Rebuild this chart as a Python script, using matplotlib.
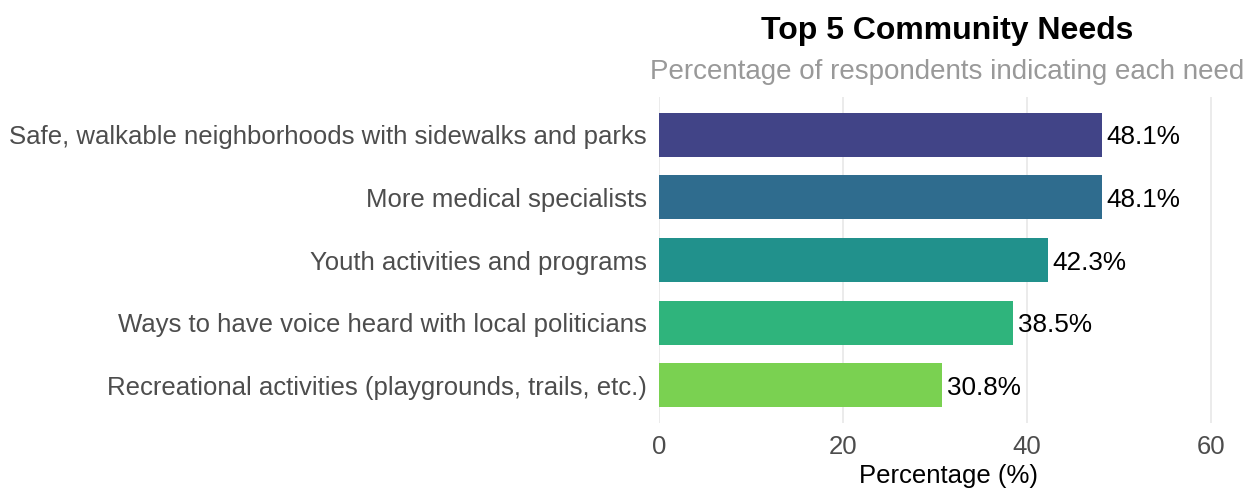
import matplotlib
matplotlib.use("Agg")
import matplotlib.pyplot as plt
import numpy as np

plt.rcParams['font.family'] = ['Liberation Sans', 'DejaVu Sans']

needs = [
    "Safe, walkable neighborhoods with sidewalks and parks",
    "More medical specialists",
    "Youth activities and programs",
    "Ways to have voice heard with local politicians",
    "Recreational activities (playgrounds, trails, etc.)",
]
percentages = [48.1, 48.1, 42.3, 38.5, 30.8]
x_ticks = [0, 20, 40, 60]

title = "Top 5 Community Needs"
subtitle = "Percentage of respondents indicating each need"
x_label = "Percentage (%)"

colors = plt.cm.viridis(np.linspace(0.2, 0.8, len(needs)))

fig = plt.figure(figsize=(12.57, 4.91), dpi=100)
ax = fig.add_axes([0.5243, 0.1385, 0.4611, 0.6639])

y_pos = np.arange(len(needs))
ax.barh(y_pos, percentages, height=0.7, color=colors, zorder=2)
for y, v in zip(y_pos, percentages):
    ax.text(v + 0.5, y, f"{v:.1f}%", va='center_baseline', ha='left',
            fontsize=18.8, color='black', zorder=3)

ax.set_ylim(len(needs) - 0.4, -0.6)
ax.set_xlim(0, 63)
ax.set_yticks(y_pos)
ax.set_yticklabels(needs, fontsize=18.5, color='#4d4d4d')
ax.set_xticks(x_ticks)
ax.set_xticklabels([str(t) for t in x_ticks], fontsize=18.5, color='#4d4d4d')
ax.tick_params(axis='y', length=0, pad=9)
ax.tick_params(axis='x', length=0, pad=9)
ax.xaxis.grid(True, color='#ebebeb', linewidth=1.4, zorder=0)
ax.yaxis.grid(False)
for s in ax.spines.values():
    s.set_visible(False)
ax.set_xlabel(x_label, fontsize=18.5, color='black', labelpad=3)

cx = (0.5243 + 0.5243 + 0.4611) / 2 - 0.001
fig.text(cx, 1 - 27 / 491, title, ha='center', va='center_baseline',
         fontsize=23, fontweight='bold', color='black')
fig.text(cx, 1 - 69 / 491, subtitle, ha='center', va='center_baseline',
         fontsize=20, color='#999999')

fig.savefig("out.png", dpi=100, facecolor='white')
